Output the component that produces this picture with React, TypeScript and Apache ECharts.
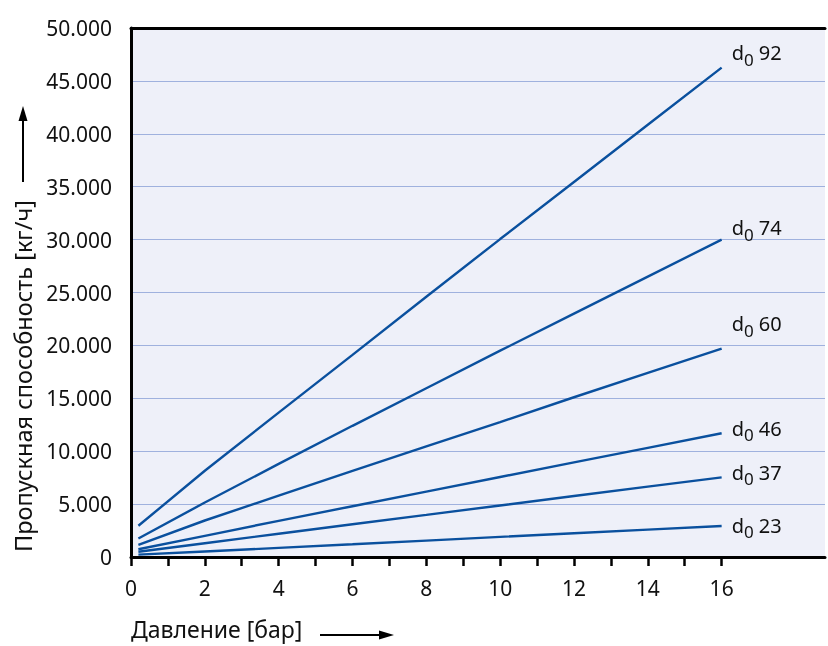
import React, { useEffect, useRef } from "react";
import * as echarts from "echarts";

const pressures = [0.2, 2, 4, 6, 8, 10, 12, 14, 16];
const d23 = [220, 520, 860, 1200, 1550, 1900, 2240, 2590, 2930];
const d37 = [500, 1300, 2200, 3100, 3980, 4870, 5760, 6650, 7530];
const d46 = [730, 2000, 3420, 4800, 6180, 7560, 8940, 10320, 11700];
const d60 = [1150, 3450, 5800, 8150, 10450, 12750, 15100, 17400, 19700];
const d74 = [1750, 5150, 8800, 12400, 15950, 19500, 23000, 26500, 30000];
const d92 = [2950, 8150, 13650, 19100, 24600, 30050, 35450, 40850, 46250];

const seriesNames = ["23", "37", "46", "60", "74", "92"];
const seriesValues = [d23, d37, d46, d60, d74, d92];
const labelOffsets = [-1, -5, -5, -25, -12, -15];

const xTickValues = [0, 1, 2, 3, 4, 5, 6, 7, 8, 9, 10, 11, 12, 13, 14, 15, 16];
const xLabelValues = [0, 2, 4, 6, 8, 10, 12, 14, 16];

const FONT = "Noto Sans";
const LINE_COLOR = "#0a509e";

export default function App() {
  const ref = useRef<HTMLDivElement>(null);
  useEffect(() => {
    if (!ref.current) return;
    const chart = echarts.init(ref.current, undefined, { renderer: "svg" });
    const series = seriesValues.map((vals, si) => ({
      type: "line",
      name: seriesNames[si],
      data: pressures.map((p, i) => [p, vals[i]]),
      showSymbol: false,
      symbol: "none",
      lineStyle: { color: LINE_COLOR, width: 2.4 },
      itemStyle: { color: LINE_COLOR },
      endLabel: {
        show: true,
        distance: 10,
        offset: [0, labelOffsets[si]],
        formatter: () => `{a|d}{b|0}{a| ${seriesNames[si]}}`,
        rich: {
          a: { fontSize: 20, lineHeight: 20, fontFamily: FONT, color: "#111", verticalAlign: "top" },
          b: { fontSize: 17, lineHeight: 18, fontFamily: FONT, color: "#111", verticalAlign: "top", padding: [8, 0, 0, 0] },
        },
      },
    }));
    chart.setOption({
      animation: false,
      grid: {
        left: 131,
        top: 28,
        right: 3,
        bottom: 89,
        show: true,
        backgroundColor: "#eef0f9",
        borderWidth: 0,
      },
      xAxis: [
        {
          type: "value",
          min: 0,
          max: 18.8,
          interval: 1,
          axisLine: { show: true, lineStyle: { color: "#000", width: 3 } },
          axisTick: {
            show: true,
            customValues: xTickValues,
            length: 9,
            lineStyle: { color: "#000", width: 2.5 },
          },
          axisLabel: {
            customValues: xLabelValues,
            margin: 20,
            fontSize: 21,
            fontFamily: FONT,
            color: "#111",
          },
          splitLine: { show: false },
        },
        {
          type: "value",
          position: "top",
          min: 0,
          max: 18.8,
          axisLine: { show: true, onZero: false, lineStyle: { color: "#000", width: 3 } },
          axisTick: { show: false },
          axisLabel: { show: false },
          splitLine: { show: false },
        },
      ],
      yAxis: {
        type: "value",
        min: 0,
        max: 50000,
        interval: 5000,
        axisLine: { show: true, lineStyle: { color: "#000", width: 3 } },
        axisTick: { show: false },
        axisLabel: {
          margin: 19,
          fontSize: 21,
          fontFamily: FONT,
          color: "#111",
          formatter: (v: number) => (v === 0 ? "0" : `${v / 1000}.000`),
        },
        splitLine: { lineStyle: { color: "#9fb1de", width: 1 } },
      },
      graphic: [
        {
          type: "text",
          x: 23,
          y: 376,
          rotation: Math.PI / 2,
          style: {
            text: "Пропускная способность [кг/ч]",
            fontSize: 23.5,
            lineHeight: 24,
            fontFamily: FONT,
            fill: "#111",
            align: "center",
            verticalAlign: "middle",
          },
        },
        {
          type: "line",
          shape: { x1: 23, y1: 182, x2: 23, y2: 118 },
          style: { stroke: "#000", lineWidth: 2 },
        },
        {
          type: "polygon",
          shape: { points: [[23, 106], [18.5, 121], [27.5, 121]] },
          style: { fill: "#000" },
        },
        {
          type: "text",
          x: 131,
          y: 629,
          style: {
            text: "Давление [бар]",
            fontSize: 23,
            lineHeight: 24,
            fontFamily: FONT,
            fill: "#111",
            align: "left",
            verticalAlign: "middle",
          },
        },
        {
          type: "line",
          shape: { x1: 320, y1: 635, x2: 382, y2: 635 },
          style: { stroke: "#000", lineWidth: 2 },
        },
        {
          type: "polygon",
          shape: { points: [[394, 635], [379, 630.5], [379, 639.5]] },
          style: { fill: "#000" },
        },
      ],
      series,
    });
    return () => chart.dispose();
  }, []);
  return (
    <div
      ref={ref}
      style={{ position: "fixed", left: 0, top: 0, width: 828, height: 646 }}
    />
  );
}
